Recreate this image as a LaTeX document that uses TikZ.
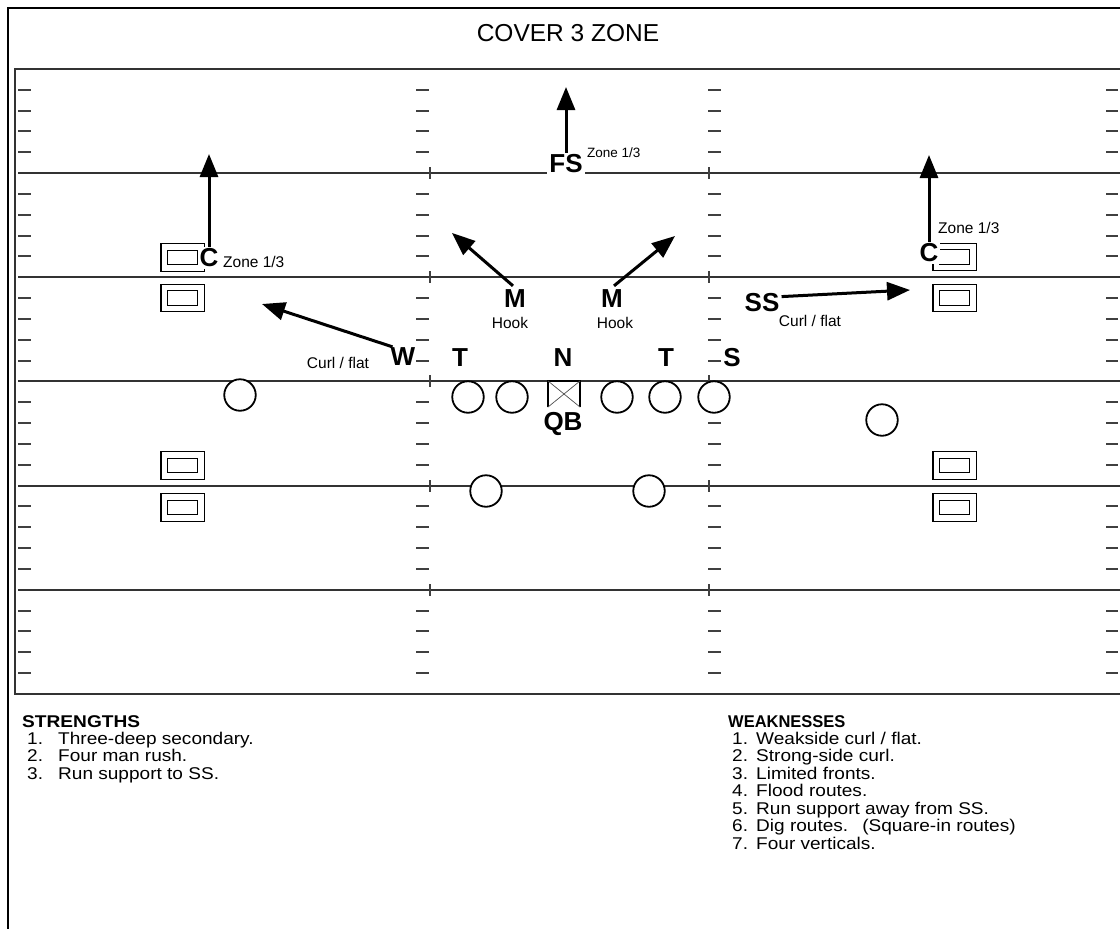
\documentclass[tikz,border=0pt]{standalone}
\usepackage{fontspec}
\usepackage{graphicx}
\setmainfont{Liberation Sans}
\newfontfamily\listfont[FakeStretch=1.12]{Liberation Sans}
\usetikzlibrary{arrows.meta,calc}
\begin{document}
\begin{tikzpicture}[x=1pt,y=-1pt,
  fieldline/.style={draw=black!80, line width=1.3pt},
  tickmark/.style={draw=black!75, line width=2pt},
  player/.style={font=\fontsize{26}{26}\selectfont\bfseries, inner sep=0pt},
  wplayer/.style={player, fill=white, inner sep=2pt},
  lbl/.style={font=\fontsize{15.5}{16}\selectfont, inner sep=0pt},
  oman/.style={circle, draw=black, line width=1.8pt, fill=white, minimum size=31.5pt, inner sep=0pt},
  route/.style={line width=3pt, -{Triangle[length=23pt,width=18pt]}},
  rcv/.style={draw, double, double distance=5.5pt, line width=1.2pt, minimum width=36.5pt, minimum height=21pt, inner sep=0pt},
  listtxt/.style={font=\listfont\fontsize{17}{18}\selectfont, inner sep=0pt, anchor=base west},
  heading/.style={font=\fontsize{17}{18}\selectfont\bfseries, inner sep=0pt, anchor=base west},
]
\useasboundingbox (0,0) rectangle (1120,929);
\clip (0,0) rectangle (1120,929);
% outer frame
\draw[line width=2.5pt] (8,945) -- (8,8) -- (1135,8);
% title
\node[font=\fontsize{24.5}{26}\selectfont, inner sep=0pt] (title) at (568,33) {COVER 3 ZONE};
% field
\draw[line width=1.6pt, draw=black!80] (15,69) rectangle (1135,694);
\foreach \k in {1,...,29}{
  \pgfmathtruncatemacro\yy{round(69+20.8333*\k)}
  \pgfmathtruncatemacro\m{mod(\k,5)}
  \ifnum\m=0
    \draw[fieldline] (18,\yy) -- (1135,\yy);
    \draw[tickmark, line width=1.5pt] (430,\yy-6) -- (430,\yy+6);
    \draw[tickmark, line width=1.5pt] (709,\yy-6) -- (709,\yy+6);
  \else
    \draw[tickmark] (18,\yy) -- (31,\yy);
    \draw[tickmark] (416,\yy) -- (429,\yy);
    \draw[tickmark] (708,\yy) -- (721,\yy);
    \draw[tickmark] (1106,\yy) -- (1118,\yy);
  \fi
}
% receivers boxes
\node[rcv] (rL1) at (182.5,257.5) {};
\node[rcv] (rL2) at (182.5,298) {};
\node[rcv] (rL3) at (182.5,465.5) {};
\node[rcv] (rL4) at (182.5,507.5) {};
\node[rcv] (rR1) at (954.5,257) {};
\node[rcv] (rR2) at (954.5,298) {};
\node[rcv] (rR3) at (954.5,465.5) {};
\node[rcv] (rR4) at (954.5,507.5) {};
% offensive circles
\node[oman] (o1) at (240,395) {};
\node[oman] (o2) at (468,397) {};
\node[oman] (o3) at (512,397) {};
\node[oman] (o4) at (617,397) {};
\node[oman] (o5) at (665,397) {};
\node[oman] (o6) at (714,397) {};
\node[oman] (o7) at (882,420) {};
\node[oman] (o8) at (486,491) {};
\node[oman] (o9) at (649,491) {};
% QB box
\node[minimum width=32pt, minimum height=26pt, inner sep=0pt] (qbbox) at (564,394) {};
\draw[line width=1.5pt] (qbbox.south west) -- (qbbox.north west) -- (qbbox.north east) -- (qbbox.south east);
\draw[line width=0.7pt, draw=black!70] (qbbox.north west) -- (qbbox.south east) (qbbox.north east) -- (qbbox.south west);
\node[player] (QB) at (563,424) {QB};
% defenders
\node[wplayer] (FS) at (566,164) {FS};
\node[lbl, anchor=west, font=\fontsize{13.5}{14}\selectfont] (zfs) at (587,153) {Zone 1/3};
\coordinate (tFS) at (565,87);
\draw[route] (FS.north) -- (FS.north |- tFS);

\node[wplayer] (CL) at (209,258) {C};
\node[lbl, anchor=west] (zcl) at (223,262) {Zone 1/3};
\coordinate (tCL) at (209,154);
\draw[route] (CL.north) -- (CL.north |- tCL);

\node[wplayer] (CR) at (929,253) {C};
\node[lbl, anchor=west] (zcr) at (938,228) {Zone 1/3};
\coordinate (tCR) at (929,155);
\draw[route] (CR.north) -- (CR.north |- tCR);

\node[player, inner ysep=4pt] (ML) at (515,299) {M};
\node[lbl] (hl) at (510,323) {Hook};
\coordinate (tML) at (452,233);
\draw[route] ($(ML.north)+(-2,0)$) -- (tML);

\node[player, inner ysep=4pt] (MR) at (612,299) {M};
\node[lbl] (hr) at (615,323) {Hook};
\coordinate (tMR) at (675,236);
\draw[route] ($(MR.north)+(2,0)$) -- (tMR);

\node[player] (W) at (403,357) {W};
\node[lbl] (cfl) at (338,363) {Curl / flat};
\coordinate (tW) at (262,304);
\draw[route] ($(W.north west)+(2,-1)$) -- (tW);

\node[player] (SS) at (762,303) {SS};
\node[lbl] (cfr) at (810,321) {Curl / flat};
\coordinate (tSS) at (910,290);
\draw[route] ($(SS.north east)+(2,3)$) -- (tSS);

\node[player] (TL) at (460,358) {T};
\node[player] (N) at (563,358) {N};
\node[player] (TR) at (666,358) {T};
\node[player] (S) at (732,358) {S};

% strengths
\node[heading] (hs) at (22,727) {\scalebox{1.125}[1]{STRENGTHS}};
\foreach \t [count=\i] in {{Three-deep secondary.},{Four man rush.},{Run support to SS.}}{
  \node[listtxt] (sn\i) at (27,{744+17.5*(\i-1)}) {\i.};
  \node[listtxt] (st\i) at (58,{744+17.5*(\i-1)}) {\t};
}
% weaknesses
\node[heading] (hw) at (728,727) {\scalebox{0.97}[1]{WEAKNESSES}};
\foreach \t [count=\i] in {{Weakside curl / flat.},{Strong-side curl.},{Limited fronts.},{Flood routes.},{Run support away from SS.},{Dig routes.\hspace{14pt}(Square-in routes)},{Four verticals.}}{
  \node[listtxt] (wn\i) at (732,{744+17.5*(\i-1)}) {\i.};
  \node[listtxt] (wt\i) at (756,{744+17.5*(\i-1)}) {\t};
}
\end{tikzpicture}
\end{document}
